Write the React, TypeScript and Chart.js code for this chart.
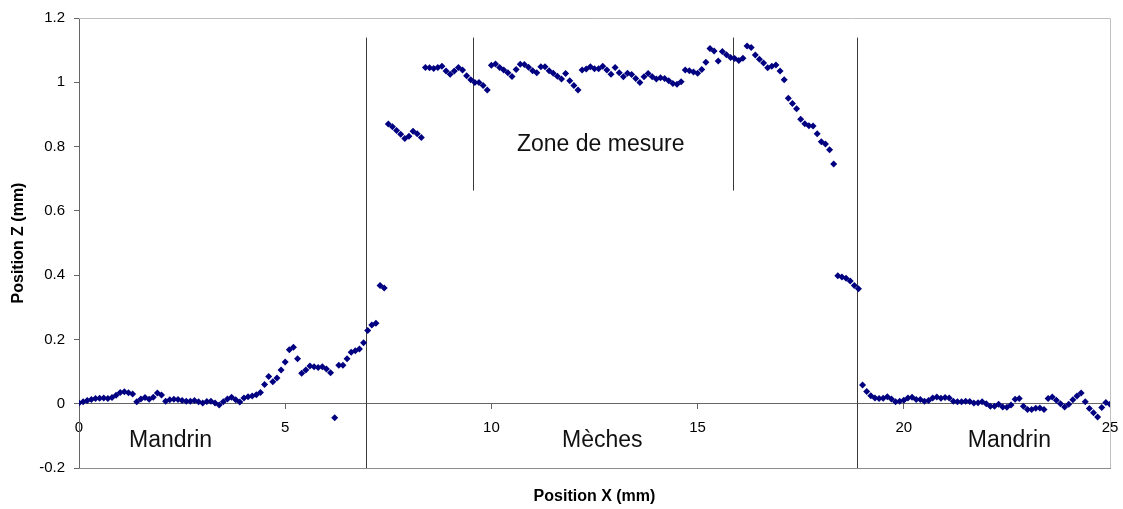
import { useEffect, useRef } from "react";
import { Chart, registerables } from "chart.js";

Chart.register(...registerables);

// Sampling step of the profile along X (mm)
const STEP_MM = 0.1;

// Measured Z position (mm), one value every STEP_MM from X = 0 to X = 25
const zValues: number[] = [
  0.002, 0.006, 0.010, 0.013, 0.016, 0.017, 0.018, 0.016, 0.019, 0.026,
  0.035, 0.037, 0.034, 0.030, 0.006, 0.015, 0.019, 0.014, 0.020, 0.033,
  0.027, 0.008, 0.012, 0.014, 0.013, 0.010, 0.008, 0.008, 0.010, 0.006,
  0.002, 0.007, 0.008, 0.002, -0.004, 0.006, 0.015, 0.020, 0.012, 0.005,
  0.018, 0.022, 0.024, 0.028, 0.035, 0.060, 0.085, 0.068, 0.080, 0.105,
  0.130, 0.168, 0.176, 0.140, 0.095, 0.105, 0.117, 0.115, 0.113, 0.115,
  0.108, 0.096, -0.044, 0.120, 0.120, 0.140, 0.160, 0.165, 0.170, 0.190,
  0.228, 0.245, 0.250, 0.368, 0.360, 0.870, 0.862, 0.850, 0.838, 0.825,
  0.832, 0.848, 0.840, 0.828, 1.046, 1.045, 1.043, 1.046, 1.050, 1.035,
  1.025, 1.035, 1.046, 1.038, 1.020, 1.008, 0.999, 0.999, 0.990, 0.976,
  1.053, 1.057, 1.046, 1.038, 1.030, 1.018, 1.040, 1.056, 1.055, 1.047,
  1.036, 1.030, 1.048, 1.048, 1.036, 1.028, 1.019, 1.010, 1.027, 1.005,
  0.990, 0.976, 1.038, 1.041, 1.048, 1.042, 1.042, 1.050, 1.038, 1.025,
  1.046, 1.030, 1.017, 1.028, 1.024, 1.012, 0.999, 1.017, 1.027, 1.017,
  1.010, 1.014, 1.012, 1.005, 0.996, 0.994, 1.002, 1.038, 1.036, 1.032,
  1.028, 1.040, 1.062, 1.105, 1.097, 1.066, 1.096, 1.086, 1.077, 1.074,
  1.068, 1.075, 1.113, 1.108, 1.085, 1.072, 1.060, 1.045, 1.050, 1.054,
  1.035, 1.008, 0.950, 0.934, 0.918, 0.885, 0.871, 0.865, 0.864, 0.840,
  0.815, 0.808, 0.790, 0.746, 0.398, 0.394, 0.390, 0.382, 0.368, 0.358,
  0.058, 0.038, 0.025, 0.018, 0.016, 0.017, 0.022, 0.015, 0.006, 0.008,
  0.011, 0.018, 0.020, 0.013, 0.013, 0.008, 0.010, 0.018, 0.021, 0.017,
  0.019, 0.018, 0.008, 0.006, 0.006, 0.008, 0.007, 0.002, 0.003, 0.006,
  0.000, -0.008, -0.008, -0.002, -0.010, -0.011, -0.004, 0.014, 0.016, -0.008,
  -0.018, -0.018, -0.014, -0.013, -0.018, 0.016, 0.021, 0.011, 0.000, -0.010,
  -0.002, 0.012, 0.024, 0.033, 0.006, -0.015, -0.028, -0.041, -0.012, 0.004,
  -0.002,
];

const xTicks = [0, 5, 10, 15, 20, 25];
const yTicks = [-0.2, 0, 0.2, 0.4, 0.6, 0.8, 1, 1.2];

// Vertical separators (X in mm, from Z top to Z bottom)
const dividerX = [6.97, 9.55, 15.86, 18.87];
const dividerTop = [1.139, 1.139, 1.139, 1.139];
const dividerBottom = [-0.2, 0.663, 0.663, -0.2];

// Zone annotations
const zoneLabels = ["Mandrin", "Mèches", "Mandrin", "Zone de mesure"];
const zoneLabelX = [2.22, 12.69, 22.56, 12.65];
const zoneLabelY = [-0.115, -0.115, -0.115, 0.805];

const FONT = "'Liberation Sans', Arial, Helvetica, sans-serif";

export default function App() {
  const ref = useRef<HTMLCanvasElement>(null);

  useEffect(() => {
    const canvas = ref.current;
    if (!canvas) return;

    const points = zValues.map((z, i) => ({ x: Math.round(i * STEP_MM * 1000) / 1000, y: z }));

    const overlay = {
      id: "overlay",
      beforeDatasetsDraw(chart: any) {
        const { ctx, chartArea } = chart;
        const xs = chart.scales.x;
        const ys = chart.scales.y;
        ctx.save();
        ctx.lineWidth = 1;
        ctx.strokeStyle = "#c0c0c0";
        ctx.beginPath();
        ctx.moveTo(chartArea.left, chartArea.top + 0.5);
        ctx.lineTo(chartArea.right + 0.5, chartArea.top + 0.5);
        ctx.lineTo(chartArea.right + 0.5, chartArea.bottom);
        ctx.stroke();
        ctx.strokeStyle = "#8c8c8c";
        ctx.beginPath();
        ctx.moveTo(chartArea.left, chartArea.bottom + 0.5);
        ctx.lineTo(chartArea.right + 1, chartArea.bottom + 0.5);
        ctx.stroke();
        ctx.strokeStyle = "#3a3a3a";
        for (let i = 0; i < dividerX.length; i++) {
          const px = Math.round(xs.getPixelForValue(dividerX[i])) + 0.5;
          ctx.beginPath();
          ctx.moveTo(px, ys.getPixelForValue(dividerTop[i]));
          ctx.lineTo(px, ys.getPixelForValue(dividerBottom[i]));
          ctx.stroke();
        }
        ctx.restore();
      },
      afterDatasetsDraw(chart: any) {
        const { ctx } = chart;
        const xs = chart.scales.x;
        const ys = chart.scales.y;
        ctx.save();
        ctx.fillStyle = "#111";
        ctx.font = `23px ${FONT}`;
        ctx.textAlign = "center";
        ctx.textBaseline = "middle";
        for (let i = 0; i < zoneLabels.length; i++) {
          ctx.fillText(zoneLabels[i], xs.getPixelForValue(zoneLabelX[i]), ys.getPixelForValue(zoneLabelY[i]));
        }
        ctx.restore();
      },
    };

    const chart = new Chart(canvas, {
      type: "scatter",
      data: {
        datasets: [
          {
            label: "Profil",
            data: points,
            backgroundColor: "#000080",
            borderColor: "#000080",
            pointStyle: "rectRot",
            pointRadius: 3.5,
            pointBorderWidth: 0,
            showLine: false,
          },
        ],
      },
      options: {
        responsive: false,
        animation: false,
        devicePixelRatio: 1,
        layout: { padding: { left: 0, top: 17, right: 13, bottom: 0 } },
        plugins: {
          legend: { display: false },
          tooltip: { enabled: false },
          title: { display: false },
        },
        scales: {
          x: {
            type: "linear",
            position: { y: 0 } as any,
            min: 0,
            max: 25,
            afterBuildTicks: (scale: any) => {
              scale.ticks = xTicks.map((v) => ({ value: v }));
            },
            afterFit: (scale: any) => {
              scale.paddingLeft = 0;
              scale.paddingRight = 0;
            },
            ticks: {
              font: { family: FONT, size: 15 },
              color: "#000",
              padding: 10,
              maxRotation: 0,
              autoSkip: false,
              callback: (v: any) => String(v),
            },
            grid: {
              display: true,
              drawOnChartArea: false,
              drawTicks: true,
              tickLength: 5,
              color: "#666",
            },
            border: { display: true, color: "#666", width: 1 },
            title: { display: false },
          },
          x2: {
            type: "linear",
            position: "bottom",
            min: 0,
            max: 25,
            afterFit: (scale: any) => {
              scale.height = 41;
              scale.paddingLeft = 0;
              scale.paddingRight = 0;
            },
            ticks: { display: false },
            grid: { display: false, drawTicks: false },
            border: { display: false },
            title: {
              display: true,
              text: "Position X (mm)",
              color: "#000",
              font: { family: FONT, size: 16, weight: "bold" },
              padding: { top: 0, bottom: 3 },
            },
          },
          y: {
            type: "linear",
            position: "left",
            min: -0.2,
            max: 1.2,
            afterFit: (scale: any) => {
              scale.width = 79;
            },
            afterBuildTicks: (scale: any) => {
              scale.ticks = yTicks.map((v) => ({ value: v }));
            },
            ticks: {
              font: { family: FONT, size: 15 },
              color: "#000",
              padding: 9,
              callback: (v: any) => String(Math.round(Number(v) * 10) / 10),
            },
            grid: {
              display: true,
              drawOnChartArea: false,
              drawTicks: true,
              tickLength: 5,
              color: "#666",
            },
            border: { display: true, color: "#666", width: 1 },
            title: {
              display: true,
              text: "Position Z (mm)",
              color: "#000",
              font: { family: FONT, size: 16, weight: "bold" },
              padding: { top: 9, bottom: 0 },
            },
          },
        },
      },
      plugins: [overlay],
    });

    return () => chart.destroy();
  }, []);

  return (
    <div style={{ position: "absolute", left: 0, top: 0, width: 1123, height: 509, background: "#fff" }}>
      <canvas ref={ref} width={1123} height={509} style={{ display: "block" }} />
    </div>
  );
}
